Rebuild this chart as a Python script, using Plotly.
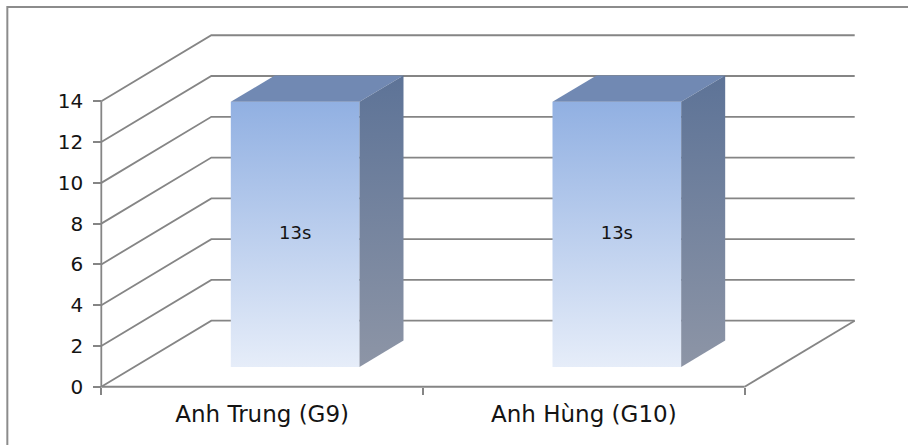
import plotly.graph_objects as go

# ---- data -------------------------------------------------------------
categories = ["Anh Trung (G9)", "Anh Hùng (G10)"]
times = [13, 13]
bar_labels = ["13s", "13s"]
y_ticks = [0, 2, 4, 6, 8, 10, 12, 14]

# ---- 3-D look: oblique projection of the depth axis -------------------
W, H = 908, 445
DX = 0.342      # horizontal shift of the back wall, in category units
DY = 3.24       # vertical shift of the back wall, in value units
Y_MAX = 14
BAR_HALF = 0.2              # half bar width (category units)
BAR_D0, BAR_D1 = 0.3, 0.7   # bar depth span (0 = front, 1 = back)

PADX, PADY = 0.06, 0.6
n = len(categories)
x_lo, x_hi = -0.5 - PADX, n - 0.5 + DX + PADX
y_lo, y_hi = -PADY, Y_MAX + DY + PADY

# pixel scale of the plotting area
PX_X, PX_Y = 321.8, 20.4
X0_PX, Y0_PX = 101, 387
ml = X0_PX - PADX * PX_X
mr = W - (X0_PX + (x_hi + 0.5) * PX_X)
mb = H - Y0_PX - PADY * PX_Y
mt = Y0_PX - (y_hi) * PX_Y
pw, ph = W - ml - mr, H - mt - mb

GRID = "#858585"
FONT = "DejaVu Sans"
TEXT = "#141414"


def proj(x, v, d):
    return x + DX * d, v + DY * d


def poly(pts):
    xs, ys = [], []
    for p in pts:
        px, py = proj(*p)
        xs.append(px)
        ys.append(py)
    return xs, ys


fig = go.Figure()

# ---- walls: gridlines on the side wall and back wall ------------------
gx, gy = [], []
left, right = -0.5, n - 0.5
for v in y_ticks:
    for p in [(left, v, 0), (left, v, 1), (right, v, 1)]:
        px, py = proj(*p)
        gx.append(px)
        gy.append(py)
    gx.append(None)
    gy.append(None)
# floor edges and front vertical axis
for seg in [[(right, 0, 0), (right, 0, 1)],
            [(left, 0, 0), (right, 0, 0)],
            [(left, 0, 0), (left, Y_MAX, 0)]]:
    for p in seg:
        px, py = proj(*p)
        gx.append(px)
        gy.append(py)
    gx.append(None)
    gy.append(None)

fig.add_trace(go.Scatter(x=gx, y=gy, mode="lines",
                         line=dict(color=GRID, width=1.8),
                         hoverinfo="skip", showlegend=False))

# ---- bars ---------------------------------------------------------------
for i, (v, lab) in enumerate(zip(times, bar_labels)):
    c = i
    a, b = c - BAR_HALF, c + BAR_HALF
    front = [(a, 0, BAR_D0), (b, 0, BAR_D0), (b, v, BAR_D0), (a, v, BAR_D0), (a, 0, BAR_D0)]
    top = [(a, v, BAR_D0), (b, v, BAR_D0), (b, v, BAR_D1), (a, v, BAR_D1), (a, v, BAR_D0)]
    side = [(b, 0, BAR_D0), (b, 0, BAR_D1), (b, v, BAR_D1), (b, v, BAR_D0), (b, 0, BAR_D0)]

    xs, ys = poly(front)
    fig.add_trace(go.Scatter(
        x=xs, y=ys, mode="lines", fill="toself", line=dict(width=0),
        fillgradient=dict(type="vertical",
                          colorscale=[[0, "#e6edf9"], [1, "#91b0e2"]]),
        hoverinfo="skip", showlegend=False))
    xs, ys = poly(top)
    fig.add_trace(go.Scatter(
        x=xs, y=ys, mode="lines", fill="toself", line=dict(width=0),
        fillcolor="#7189b3", hoverinfo="skip", showlegend=False))
    xs, ys = poly(side)
    fig.add_trace(go.Scatter(
        x=xs, y=ys, mode="lines", fill="toself", line=dict(width=0),
        fillgradient=dict(type="vertical",
                          colorscale=[[0, "#8d95a6"], [1, "#5d7397"]]),
        hoverinfo="skip", showlegend=False))

    tx, ty = proj(c, v / 2, BAR_D0)
    fig.add_trace(go.Scatter(
        x=[tx], y=[ty], mode="text", text=[lab], textposition="middle center",
        textfont=dict(family=FONT, size=18, color=TEXT),
        hoverinfo="skip", showlegend=False))

# ---- outer frame ----------------------------------------------------------
fig.add_shape(type="rect", xref="paper", yref="paper",
              x0=(7 - ml) / pw, x1=(W + 20 - ml) / pw,
              y0=(H - mb - (H + 20)) / ph, y1=(H - mb - 7) / ph,
              line=dict(color="#8c8c8c", width=2))

fig.update_layout(
    width=W, height=H,
    margin=dict(l=ml, r=mr, t=mt, b=mb, pad=0),
    paper_bgcolor="white", plot_bgcolor="white",
    showlegend=False,
    xaxis=dict(range=[x_lo, x_hi], anchor="free",
               position=PADY / (y_hi - y_lo),
               tickmode="array", tickvals=list(range(n)), ticktext=categories,
               ticks="", showgrid=False, zeroline=False, showline=False,
               ticklabelstandoff=11,
               tickfont=dict(family=FONT, size=23, color=TEXT),
               minor=dict(tickmode="array",
                          tickvals=[k - 0.5 for k in range(n + 1)],
                          ticks="outside", ticklen=7, tickwidth=1.8,
                          tickcolor=GRID, showgrid=False),
               fixedrange=True),
    yaxis=dict(range=[y_lo, y_hi], anchor="free",
               position=PADX / (x_hi - x_lo),
               tickmode="array", tickvals=y_ticks,
               ticks="outside", ticklen=8, tickwidth=1.8, tickcolor=GRID,
               showgrid=False, zeroline=False, showline=False,
               ticklabelstandoff=6,
               tickfont=dict(family=FONT, size=20, color=TEXT),
               fixedrange=True),
)

fig.write_html("out.html")
